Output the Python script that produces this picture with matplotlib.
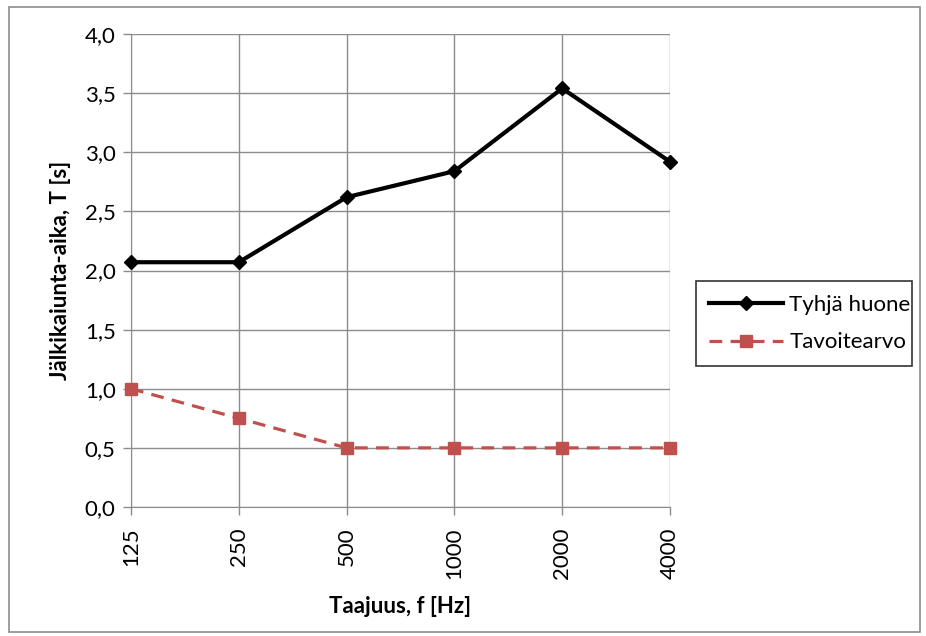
import matplotlib
matplotlib.use("Agg")
import matplotlib.pyplot as plt
from matplotlib.patches import Rectangle

categories = ["125", "250", "500", "1000", "2000", "4000"]
tyhja = [2.07, 2.07, 2.62, 2.84, 3.54, 2.92]
tavoite = [1.0, 0.75, 0.5, 0.5, 0.5, 0.5]
yticks = [0.0, 0.5, 1.0, 1.5, 2.0, 2.5, 3.0, 3.5, 4.0]
ylabels = ["0,0", "0,5", "1,0", "1,5", "2,0", "2,5", "3,0", "3,5", "4,0"]

plt.rcParams['font.family'] = ['Lato', 'DejaVu Sans']
FS = 16

fig = plt.figure(figsize=(9.26, 6.36), dpi=100)
fig.patches.append(Rectangle((9/926, 1 - 632/636), 911/926, 625/636, transform=fig.transFigure,
                             fill=False, edgecolor='#8c8c8c', linewidth=1.2))
ax = fig.add_axes([131/926, 1 - 507/636, 539/926, 473/636])
x = list(range(len(categories)))
grid_c = '#8c8c8c'
ax.plot(x, tyhja, color='black', lw=3, marker='D', markersize=7.5, label='Tyhjä huone',
        zorder=3, clip_on=False)
ax.plot(x, tavoite, color='#C0504D', lw=2.3, dashes=(4, 2.6), marker='s', markersize=9,
        label='Tavoitearvo', zorder=3, clip_on=False)
ax.set_xlim(0, len(categories) - 1)
ax.set_ylim(0, 4.0)
ax.set_xticks(x)
ax.set_xticklabels(categories, rotation=90, fontsize=FS)
ax.set_yticks(yticks)
ax.set_yticklabels(ylabels, fontsize=FS)
ax.grid(True, color=grid_c, lw=1)
for s in ['top', 'right']:
    ax.spines[s].set_visible(False)
for s in ['left', 'bottom']:
    ax.spines[s].set_color(grid_c)
ax.tick_params(axis='both', color=grid_c, length=6, width=1)
ax.tick_params(axis='x', pad=9)
ax.tick_params(axis='y', pad=5)
ax.set_axisbelow(True)
ax.set_ylabel('Jälkikaiunta-aika, T [s]', fontsize=FS, fontweight='bold', labelpad=10)
ax.set_xlabel('Taajuus, f [Hz]', fontsize=FS, fontweight='bold', labelpad=12)
leg = ax.legend(loc='center left', bbox_to_anchor=(696/926, 1 - 368/636, 216/926, 89/636),
                bbox_transform=fig.transFigure, mode='expand', borderaxespad=0, fontsize=FS,
                frameon=True, fancybox=False, edgecolor='black', handlelength=3.3,
                borderpad=0.6, labelspacing=0.8, handletextpad=0.3)
leg.get_frame().set_linewidth(1.2)
fig.savefig('out.png', dpi=100)
